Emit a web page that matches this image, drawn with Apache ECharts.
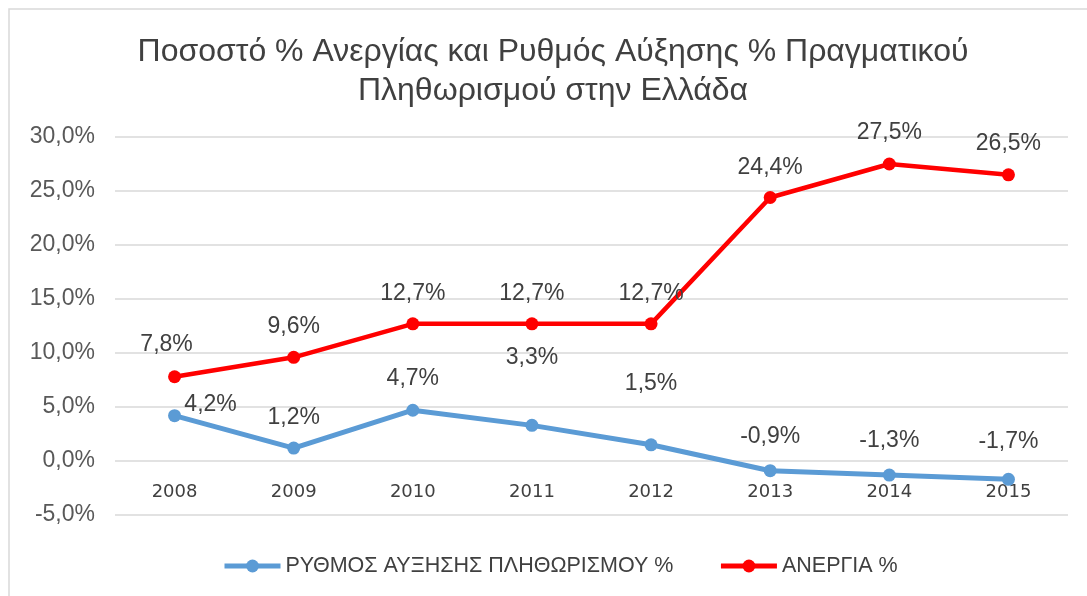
<html>
  <head>
    <meta charset="utf-8" />
    <title>Ανεργία και Πληθωρισμός</title>
    <script type="text/javascript" src="https://cdn.jsdelivr.net/npm/echarts@6/dist/echarts.min.js"></script>
    <style>
      body { margin: 0; background: #fff; }
    </style>
  </head>
  <body>
      <div id="main" style="width:1087px;height:596px;"></div>
      <script type="text/javascript">
        var years = ['2008', '2009', '2010', '2011', '2012', '2013', '2014', '2015'];
        var inflation = [4.2, 1.2, 4.7, 3.3, 1.5, -0.9, -1.3, -1.7];
        var unemployment = [7.8, 9.6, 12.7, 12.7, 12.7, 24.4, 27.5, 26.5];
        var inflationName = 'ΡΥΘΜΟΣ ΑΥΞΗΣΗΣ ΠΛΗΘΩΡΙΣΜΟΥ %';
        var unemploymentName = 'ΑΝΕΡΓΙΑ %';

        // label nudges (Excel placed some of them by hand)
        var inflationNudge = [[36, 19], [0, 0], [0, -2], [0, -38], [0, -31], [0, -4], [0, -4], [0, -8]];
        var unemploymentNudge = [[-8, -2], [0, -1], [0, 0], [0, 0], [0, 0], [0, 0], [0, -1], [0, -1]];

        function pct(v) {
            return v.toFixed(1).replace('.', ',') + '%';
        }

        function points(values, nudge) {
            return values.map(function (v, i) {
                return { value: v, label: { offset: nudge[i] } };
            });
        }

        var font = 'Liberation Sans, Arial, sans-serif';
        var myChart = echarts.init(document.getElementById('main'));

        var option = {
          animation: false,
          textStyle: { fontFamily: font },
          graphic: [{
              type: 'rect',
              shape: { x: 9, y: 9, width: 1100, height: 620 },
              style: { fill: 'none', stroke: '#d9d9d9', lineWidth: 1.5 },
              silent: true
          }],
          title: {
              text: 'Ποσοστό % Ανεργίας και Ρυθμός Αύξησης % Πραγματικού\nΠληθωρισμού στην Ελλάδα',
              left: 553,
              top: 33,
              textAlign: 'center',
              padding: 0,
              textStyle: {
                  fontFamily: font,
                  fontSize: 32,
                  fontWeight: 'normal',
                  color: '#404040',
                  lineHeight: 39
              }
          },
          legend: {
              bottom: 19,
              left: 222,
              padding: 0,
              itemWidth: 56,
              itemHeight: 16,
              itemGap: 45,
              lineStyle: { width: 5 },
              textStyle: { fontFamily: font, fontSize: 21.5, color: '#404040' },
              data: [inflationName, unemploymentName]
          },
          grid: {
              left: 115,
              right: 19,
              top: 137,
              bottom: 81
          },
          xAxis: {
              type: 'category',
              data: years,
              axisLine: { show: false },
              axisTick: { show: false },
              // Excel draws the year labels just under the 0% line
              axisLabel: { fontFamily: 'DejaVu Sans', fontSize: 18, color: '#404040', margin: -32 }
          },
          yAxis: {
              type: 'value',
              min: -5,
              max: 30,
              interval: 5,
              axisLine: { show: false },
              axisTick: { show: false },
              axisLabel: {
                  fontSize: 23,
                  color: '#595959',
                  margin: 20,
                  formatter: pct
              },
              splitLine: { lineStyle: { color: '#d9d9d9', width: 1.5 } }
          },
          series: [
            {
              name: inflationName,
              type: 'line',
              data: points(inflation, inflationNudge),
              symbol: 'circle',
              symbolSize: 13,
              lineStyle: { color: '#5b9bd5', width: 5 },
              itemStyle: { color: '#5b9bd5' },
              label: {
                  show: true,
                  position: 'top',
                  distance: 12,
                  fontSize: 23,
                  color: '#404040',
                  formatter: function (p) { return pct(p.value); }
              }
            },
            {
              name: unemploymentName,
              type: 'line',
              data: points(unemployment, unemploymentNudge),
              symbol: 'circle',
              symbolSize: 13,
              lineStyle: { color: '#ff0000', width: 4.5 },
              itemStyle: { color: '#ff0000' },
              label: {
                  show: true,
                  position: 'top',
                  distance: 12,
                  fontSize: 23,
                  color: '#404040',
                  formatter: function (p) { return pct(p.value); }
              }
            }
          ]
        };
        myChart.setOption(option);
      </script>
  </body>
</html>
